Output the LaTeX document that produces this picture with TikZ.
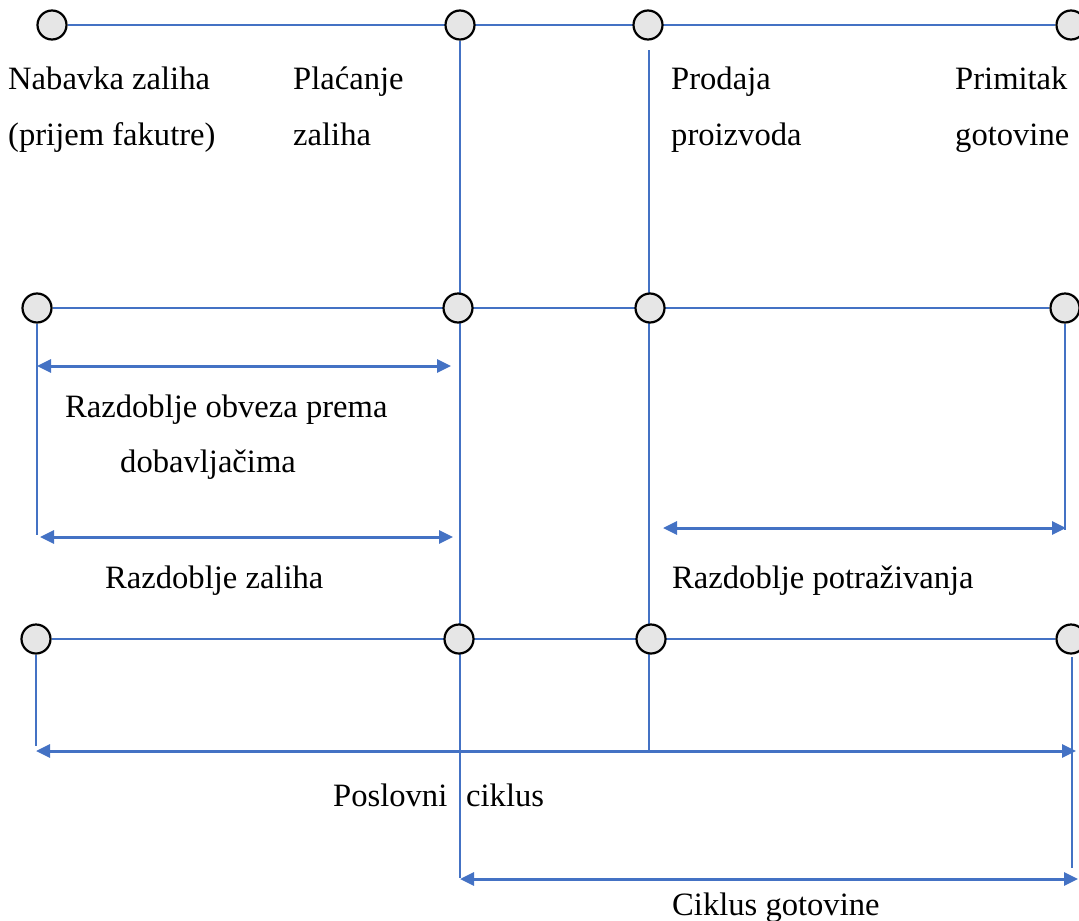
\documentclass[tikz,border=0pt]{standalone}
\usepackage{fontspec}
\setmainfont{Liberation Serif}
\usetikzlibrary{arrows.meta,backgrounds}
\definecolor{linkblue}{HTML}{4472C4}
\definecolor{dotgray}{HTML}{E6E6E6}
\tikzset{
 dot/.style={circle,draw=black,line width=2.2pt,fill=dotgray,minimum size=29pt,inner sep=0pt},
 link/.style={draw=linkblue,line width=2.4pt},
 span/.style={draw=linkblue,line width=3pt,{Triangle[length=14pt,width=13pt]}-{Triangle[length=14pt,width=13pt]}},
 lbl/.style={anchor=base west,inner sep=0pt,font=\fontsize{32.6}{39}\selectfont}
}
\begin{document}
\begin{tikzpicture}[x=1pt,y=-1pt]
 \useasboundingbox (0,0) rectangle (1079,921);
 % circles
 \node[dot] (t1) at (52,25) {};
 \node[dot] (t2) at (460,25) {};
 \node[dot] (t3) at (648,25) {};
 \node[dot] (t4) at (1071,25) {};
 \node[dot] (m1) at (37,308) {};
 \node[dot] (m2) at (458,308) {};
 \node[dot] (m3) at (650,308) {};
 \node[dot] (m4) at (1065,308) {};
 \node[dot] (b1) at (36,639) {};
 \node[dot] (b2) at (459,639) {};
 \node[dot] (b3) at (651,639) {};
 \node[dot] (b4) at (1071,639) {};
 % free ends
 \coordinate (c2end) at (460,878);
 \coordinate (c3top) at (649,50);
 \coordinate (c3end) at (649,752);
 \coordinate (m1end) at (37,535);
 \coordinate (m4end) at (1065,530);
 \coordinate (b1end) at (36,746);
 \coordinate (b4top) at (1072,657);
 \coordinate (b4end) at (1072,868);
 \coordinate (obvL) at (37,366);
 \coordinate (obvR) at (451,366);
 \coordinate (zalL) at (40,537);
 \coordinate (zalR) at (453,537);
 \coordinate (potL) at (663,528);
 \coordinate (potR) at (1066,528);
 \coordinate (posL) at (36,751);
 \coordinate (posR) at (1076,751);
 \coordinate (cikL) at (460,879);
 \coordinate (cikR) at (1078,879);
 \begin{scope}[on background layer]
 \draw[link] (t1) -- (t4);
 \draw[link] (m1) -- (m4);
 \draw[link] (b1) -- (b4);
 \draw[link] (t2) -- (c2end);
 \draw[link] (c3top) -- (c3end);
 \draw[link] (m1) -- (m1end);
 \draw[link] (m4) -- (m4end);
 \draw[link] (b1) -- (b1end);
 \draw[link] (b4top) -- (b4end);
 \end{scope}
 % arrows
 \draw[span] (obvL) -- (obvR);
 \draw[span] (zalL) -- (zalR);
 \draw[span] (potL) -- (potR);
 \draw[span] (posL) -- (posR);
 \draw[span] (cikL) -- (cikR);
 % labels
 \node[lbl] (nab1) at (8,89) {Nabavka zaliha};
 \node[lbl] (nab2) at (8,145) {(prijem fakutre)};
 \node[lbl] (pla1) at (293,89) {Plaćanje};
 \node[lbl] (pla2) at (293,145) {zaliha};
 \node[lbl] (pro1) at (671,89) {Prodaja};
 \node[lbl] (pro2) at (671,145) {proizvoda};
 \node[lbl] (pri1) at (955,89) {Primitak};
 \node[lbl] (pri2) at (955,145) {gotovine};
 \node[lbl] (obv1) at (65,417) {Razdoblje obveza prema};
 \node[lbl] (obv2) at (120,472) {dobavljačima};
 \node[lbl] (zal) at (105,588) {Razdoblje zaliha};
 \node[lbl] (pot) at (672,588) {Razdoblje potraživanja};
 \node[lbl] (pos1) at (333,806) {Poslovni};
 \node[lbl] (pos2) at (466,806) {ciklus};
 \node[lbl] (cik) at (672,915) {Ciklus gotovine};
\end{tikzpicture}
\end{document}
